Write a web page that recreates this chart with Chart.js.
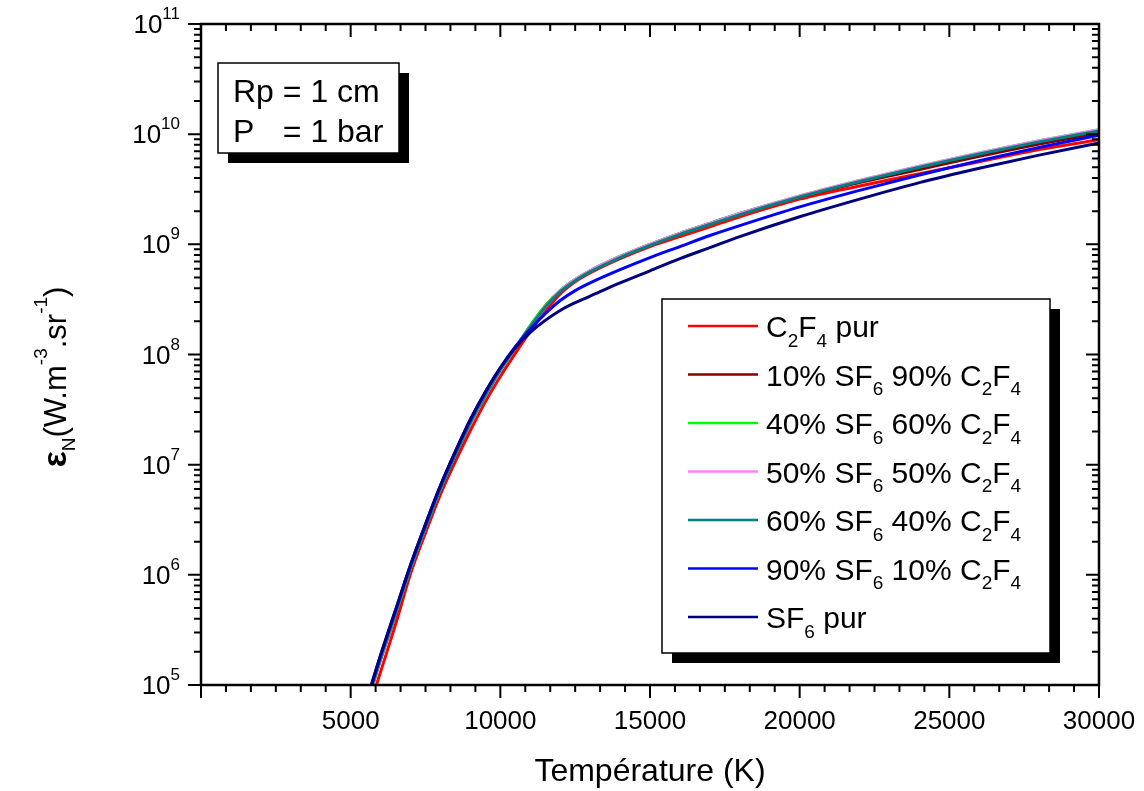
<!DOCTYPE html>
<html>
<head>
<meta charset="utf-8">
<script src="https://cdn.jsdelivr.net/npm/chart.js@4.4.1/dist/chart.umd.min.js"></script>
<style>
  body { margin: 0; background: #fff; }
  #wrap { width: 1144px; height: 791px; }
</style>
</head>
<body>
<div id="wrap"><canvas id="mycanvas"></canvas></div>
<script>
// temperatures (K) and log10 of the emission coefficient
const temperatures = [5500, 6000, 6500, 7000, 7500, 8000, 8500, 9000, 9500, 10000, 10500, 11000, 11500,
  12000, 12500, 13000, 14000, 15000, 16000, 17000, 18000, 20000, 22000, 24000, 26000, 28000, 30000];

const c2f4Pur = [4.69, 5.12, 5.55, 6.01, 6.38, 6.73, 7.03, 7.31, 7.57, 7.80, 8.01, 8.21, 8.39,
  8.55, 8.66, 8.74, 8.87, 8.98, 9.07, 9.16, 9.25, 9.41, 9.53, 9.64, 9.75, 9.86, 9.95];
const sf6_10 = [4.79, 5.23, 5.64, 6.05, 6.42, 6.77, 7.08, 7.38, 7.63, 7.86, 8.06, 8.26, 8.44,
  8.58, 8.68, 8.76, 8.89, 9.00, 9.10, 9.19, 9.28, 9.43, 9.56, 9.68, 9.80, 9.91, 10.01];
const sf6_40 = [4.80, 5.24, 5.65, 6.06, 6.43, 6.78, 7.09, 7.38, 7.63, 7.86, 8.06, 8.26, 8.44,
  8.58, 8.68, 8.76, 8.89, 9.00, 9.10, 9.19, 9.28, 9.44, 9.58, 9.71, 9.83, 9.94, 10.04];
const sf6_50 = [4.80, 5.24, 5.65, 6.06, 6.43, 6.78, 7.09, 7.38, 7.63, 7.86, 8.06, 8.25, 8.43,
  8.58, 8.68, 8.76, 8.89, 9.00, 9.10, 9.19, 9.28, 9.44, 9.58, 9.71, 9.83, 9.94, 10.04];
const sf6_60 = [4.80, 5.24, 5.65, 6.06, 6.43, 6.78, 7.09, 7.38, 7.63, 7.86, 8.06, 8.25, 8.43,
  8.57, 8.67, 8.75, 8.88, 8.99, 9.09, 9.18, 9.27, 9.43, 9.57, 9.70, 9.82, 9.93, 10.03];
const sf6_90 = [4.83, 5.27, 5.68, 6.09, 6.46, 6.81, 7.12, 7.41, 7.66, 7.88, 8.07, 8.23, 8.37,
  8.49, 8.58, 8.65, 8.77, 8.88, 8.98, 9.08, 9.17, 9.34, 9.49, 9.63, 9.76, 9.88, 9.99];
const sf6Pur = [4.83, 5.27, 5.68, 6.09, 6.46, 6.81, 7.12, 7.41, 7.66, 7.88, 8.06, 8.20, 8.31,
  8.40, 8.47, 8.53, 8.65, 8.76, 8.87, 8.97, 9.07, 9.25, 9.41, 9.56, 9.69, 9.81, 9.92];

const seriesNames = ["C2F4 pur", "10% SF6 90% C2F4", "40% SF6 60% C2F4", "50% SF6 50% C2F4",
  "60% SF6 40% C2F4", "90% SF6 10% C2F4", "SF6 pur"];
const seriesLogs = [c2f4Pur, sf6_10, sf6_40, sf6_50, sf6_60, sf6_90, sf6Pur];
const seriesColors = ["#ff0000", "#800000", "#00ff00", "#ff80ff", "#008080", "#0000ff", "#000080"];

const xMajors = [5000, 10000, 15000, 20000, 25000, 30000];
const yDecades = [5, 6, 7, 8, 9, 10, 11];

const FONT = '"Liberation Sans", Arial, sans-serif';

// draw text where a digit right after a letter is a subscript (C2F4, SF6)
function drawFormula(ctx, text, x, y, size) {
  let runs = [];
  for (let i = 0; i < text.length; i++) {
    let ch = text[i];
    let sub = /[0-9]/.test(ch) && i > 0 && /[A-Za-z]/.test(text[i - 1]);
    if (runs.length && runs[runs.length - 1].sub == sub) runs[runs.length - 1].t += ch;
    else runs.push({ t: ch, sub: sub });
  }
  let cx = x;
  runs.forEach(r => {
    ctx.font = (r.sub ? Math.round(size * 0.62) : size) + 'px ' + FONT;
    ctx.fillText(r.t, cx, r.sub ? y + size * 0.33 : y);
    cx += ctx.measureText(r.t).width;
  });
}

function boxWithShadow(ctx, x, y, w, h, off) {
  ctx.fillStyle = '#000';
  ctx.fillRect(x + off, y + off, w, h);
  ctx.fillStyle = '#fff';
  ctx.fillRect(x, y, w, h);
  ctx.strokeStyle = '#000';
  ctx.lineWidth = 1.5;
  ctx.strokeRect(x, y, w, h);
}

const decorPlugin = {
  id: 'decor',
  afterDatasetsDraw(chart) {
    const ctx = chart.ctx;
    const xs = chart.scales.x, ys = chart.scales.y;
    const a = chart.chartArea;
    ctx.save();
    ctx.strokeStyle = '#000';
    ctx.fillStyle = '#000';

    // ticks: bottom/left outward, top/right inward
    ctx.lineWidth = 2;
    ctx.beginPath();
    for (let v = 0; v <= 30000 + 1; v += 5000 / 6) {
      let px = xs.getPixelForValue(v);
      let major = Math.abs(v / 5000 - Math.round(v / 5000)) < 1e-6;
      let len = major ? 13 : 7;
      ctx.moveTo(px, a.bottom); ctx.lineTo(px, a.bottom + len);
      ctx.moveTo(px, a.top); ctx.lineTo(px, a.top + len);
    }
    yDecades.forEach(d => {
      for (let m = 1; m <= 9; m++) {
        if (d == 11 && m > 1) break;
        let py = ys.getPixelForValue(m * Math.pow(10, d));
        let len = m == 1 ? 13 : 7;
        ctx.moveTo(a.left, py); ctx.lineTo(a.left - len, py);
        ctx.moveTo(a.right, py); ctx.lineTo(a.right - len, py);
      }
    });
    ctx.stroke();

    // frame
    ctx.lineWidth = 2.5;
    ctx.strokeRect(a.left, a.top, a.right - a.left, a.bottom - a.top);

    // x tick labels
    ctx.font = '26px ' + FONT;
    ctx.textAlign = 'center';
    ctx.textBaseline = 'alphabetic';
    xMajors.forEach(v => ctx.fillText(String(v), xs.getPixelForValue(v), 729));

    // y tick labels 10^n
    ctx.textAlign = 'left';
    yDecades.forEach(d => {
      let py = ys.getPixelForValue(Math.pow(10, d));
      ctx.font = '17px ' + FONT;
      let ew = ctx.measureText(String(d)).width;
      ctx.font = '26px ' + FONT;
      let bw = ctx.measureText('10').width;
      let right = a.left - 21;
      ctx.fillText('10', right - ew - bw, py + 9);
      ctx.font = '17px ' + FONT;
      ctx.fillText(String(d), right - ew, py - 5);
    });

    // x title
    ctx.font = '32px ' + FONT;
    ctx.textAlign = 'center';
    ctx.fillText('Température (K)', (a.left + a.right) / 2, 781);

    // y title, rotated
    ctx.save();
    ctx.translate(66, 377);
    ctx.rotate(-Math.PI / 2);
    ctx.textAlign = 'left';
    let parts = [
      { t: 'ε', f: 'bold 34px ', dy: 0 },
      { t: 'N', f: '19px ', dy: 9 },
      { t: '(W.m', f: '31px ', dy: 0 },
      { t: '-3', f: '19px ', dy: -19 },
      { t: '.sr', f: '31px ', dy: 0 },
      { t: '-1', f: '19px ', dy: -19 },
      { t: ')', f: '31px ', dy: 0 }
    ];
    let total = 0;
    parts.forEach(p => { ctx.font = p.f + FONT; total += ctx.measureText(p.t).width; });
    let cx = -total / 2;
    parts.forEach(p => {
      ctx.font = p.f + FONT;
      ctx.fillText(p.t, cx, p.dy);
      cx += ctx.measureText(p.t).width;
    });
    ctx.restore();

    // parameter box
    boxWithShadow(ctx, 218, 63, 181, 90, 10);
    ctx.fillStyle = '#000';
    ctx.textAlign = 'left';
    ctx.font = '32px ' + FONT;
    ctx.fillText('Rp = 1 cm', 233, 102);
    let eqX = 233 + ctx.measureText('Rp ').width;
    ctx.fillText('P', 233, 142);
    ctx.fillText('= 1 bar', eqX, 142);

    // legend
    boxWithShadow(ctx, 662, 299, 388, 354, 10);
    seriesNames.forEach((name, i) => {
      let ly = 326 + i * 48.5;
      ctx.strokeStyle = seriesColors[i];
      ctx.lineWidth = 2.5;
      ctx.beginPath();
      ctx.moveTo(688, ly); ctx.lineTo(758, ly);
      ctx.stroke();
      ctx.fillStyle = '#000';
      drawFormula(ctx, name, 766, ly + 11, 30);
    });
    ctx.restore();
  }
};

const datasets = seriesNames.map((name, i) => ({
  label: name,
  data: temperatures.map((t, j) => ({ x: t, y: Math.pow(10, seriesLogs[i][j]) })),
  borderColor: seriesColors[i],
  borderWidth: 3,
  pointRadius: 0,
  fill: false,
  cubicInterpolationMode: 'monotone',
  order: seriesNames.length - i,
  clip: 0
}));

new Chart(document.getElementById('mycanvas'), {
  type: 'line',
  data: { datasets: datasets },
  options: {
    responsive: true,
    maintainAspectRatio: false,
    animation: false,
    layout: { padding: { left: 201, right: 45, top: 24, bottom: 106 } },
    plugins: { legend: { display: false }, tooltip: { enabled: false } },
    scales: {
      x: { type: 'linear', min: 0, max: 30000, display: false },
      y: { type: 'logarithmic', min: 1e5, max: 1e11, display: false }
    }
  },
  plugins: [decorPlugin]
});
</script>
</body>
</html>
